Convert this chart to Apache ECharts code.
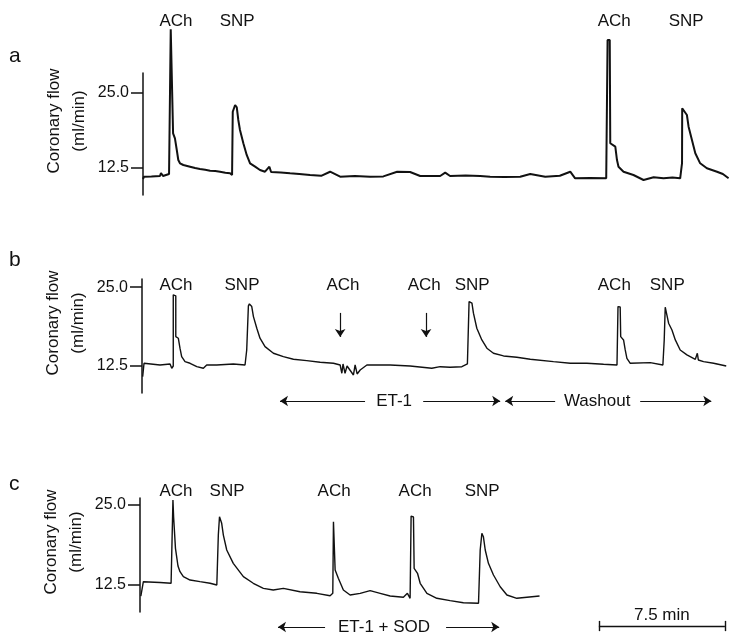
<!DOCTYPE html>
<html>
<head>
<meta charset="utf-8">
<script src="https://cdn.jsdelivr.net/npm/echarts@6/dist/echarts.min.js"></script>
<style>
html, body { margin: 0; padding: 0; background: #fff; }
#chart { width: 738px; height: 642px; }
</style>
</head>
<body>
<div id="chart"></div>
<script>
// time in minutes, coronary flow in ml/min
var traceA = [
  [0, 10.67], [0.06, 11.05], [0.5, 11.1], [1.01, 11.17], [1.07, 11.67], [1.19, 11.17], [1.55, 11.5], [1.64, 11.83],
  [1.65, 35.62], [1.76, 35.5], [1.79, 18.28], [1.9, 17.45], [2.01, 15.5], [2.1, 13.83], [2.2, 13.28], [2.4, 13.0],
  [2.8, 12.72], [3.1, 12.5], [3.39, 12.33], [3.7, 12.2], [3.99, 12.05], [4.3, 12.0], [4.58, 11.88], [4.9, 11.7], [5.18, 11.62], [5.3, 11.33],
  [5.34, 21.88], [5.48, 23.0], [5.58, 22.62], [5.67, 20.5], [5.77, 18.83], [5.97, 16.62], [6.17, 14.67], [6.37, 13.28],
  [6.67, 12.72], [6.96, 12.17], [7.26, 11.88], [7.52, 12.72], [7.62, 11.83], [8.2, 11.75], [8.75, 11.62], [9.3, 11.5], [9.94, 11.33], [10.6, 11.2],
  [11.13, 11.88], [11.73, 11.05], [12.6, 11.15], [13.51, 11.05], [14.3, 11.1], [15.12, 11.88], [15.89, 11.83], [16.49, 11.17],
  [17.68, 11.17], [17.98, 11.72], [18.27, 11.17], [19.2, 11.25], [20.06, 11.17], [20.65, 11.05], [21.5, 11.0], [22.44, 11.05], [23.04, 11.5],
  [23.93, 11.05], [24.8, 11.2], [25.42, 11.88], [25.71, 10.78], [26.6, 10.85], [27.56, 10.78],
  [27.64, 33.83], [27.77, 33.83], [27.8, 16.62], [28.1, 16.05], [28.2, 13.83], [28.29, 12.72], [28.59, 11.88], [29.18, 11.33],
  [29.78, 10.5], [30.38, 10.95], [30.97, 10.78], [31.5, 10.9], [31.96, 10.78],
  [32.07, 13.33], [32.08, 22.45], [32.16, 22.45], [32.36, 21.33], [32.46, 19.38], [32.66, 17.17], [32.86, 14.95], [33.15, 13.28],
  [33.55, 12.45], [34.15, 11.88], [34.5, 11.5], [34.84, 10.78]
];
var traceB = [
  [0.04, 10.75], [0.12, 12.88], [1.07, 12.61], [1.67, 12.77], [1.77, 12.09], [1.86, 12.45],
  [1.86, 23.78], [2.01, 23.62], [2.01, 17.13], [2.16, 16.87], [2.26, 15.28], [2.36, 13.94], [2.56, 13.14], [2.86, 12.88],
  [3.26, 12.34], [3.65, 12.09], [3.85, 12.61], [4.45, 12.61], [5.43, 12.77], [6.13, 12.61],
  [6.23, 15.0], [6.33, 22.02], [6.39, 22.34], [6.53, 21.91], [6.63, 20.31], [6.83, 18.46], [7.02, 16.87], [7.32, 15.53],
  [7.82, 14.48], [8.41, 13.94], [9.01, 13.52], [9.8, 13.3], [10.6, 13.04], [11.39, 12.88], [11.79, 12.61],
  [11.89, 11.29], [11.96, 12.77], [12.08, 11.29], [12.2, 12.45], [12.58, 11.02], [12.68, 12.61], [12.8, 11.18], [12.98, 11.81],
  [13.38, 12.61], [14.76, 12.61], [15.95, 12.45], [17.24, 12.09], [17.74, 12.34], [18.33, 12.24], [19.03, 12.34], [19.36, 12.77],
  [19.42, 12.61], [19.46, 22.71], [19.55, 22.87], [19.63, 22.45], [19.72, 20.86], [19.92, 18.46], [20.22, 16.6], [20.52, 15.28],
  [20.91, 14.48], [21.51, 14.05], [22.3, 13.84], [23.1, 13.52], [24.48, 13.14], [25.48, 12.88], [26.47, 12.88], [27.46, 12.72],
  [28.26, 12.61], [28.32, 21.91], [28.45, 21.86], [28.48, 17.13], [28.65, 16.6], [28.75, 15.0], [28.85, 13.68], [29.05, 12.88],
  [30.24, 12.98], [30.99, 12.61], [31.07, 16.6], [31.13, 21.81], [31.23, 21.65], [31.33, 19.26], [31.53, 18.19], [31.73, 16.6],
  [32.02, 15.0], [32.42, 14.21], [32.92, 13.52], [33.04, 14.48], [33.1, 13.41], [33.41, 13.14], [34.01, 12.88], [34.76, 12.45]
];
var traceC = [
  [0.05, 10.78], [0.2, 13.02], [1.19, 12.89], [1.85, 12.77],
  [1.96, 25.78], [2.0, 23.13], [2.08, 23.17], [2.11, 18.23], [2.2, 17.97], [2.26, 15.47], [2.38, 14.58], [2.58, 13.8],
  [2.98, 13.28], [3.57, 13.02], [4.17, 12.77], [4.57, 12.5],
  [4.66, 20.31], [4.73, 23.17], [4.86, 22.14], [4.96, 20.31], [5.16, 17.97], [5.55, 15.89], [6.15, 13.8], [6.74, 12.77],
  [7.34, 11.98], [7.93, 11.72], [8.53, 11.98], [9.52, 11.45], [10.52, 11.2], [11.31, 10.83], [11.47, 11.2],
  [11.51, 22.39], [11.6, 22.34], [11.61, 14.84], [11.8, 13.55], [12.1, 11.72], [12.5, 10.94], [13.1, 11.2], [13.69, 11.61],
  [14.29, 11.2], [14.88, 10.78], [15.67, 10.58], [15.91, 11.2], [16.07, 10.42],
  [16.13, 23.28], [16.27, 23.13], [16.31, 15.11], [16.51, 14.33], [16.67, 12.77], [17.07, 11.2], [17.66, 10.42], [18.45, 10.05],
  [19.24, 9.73], [20.14, 9.64],
  [20.24, 17.97], [20.34, 20.58], [20.43, 20.05], [20.54, 17.97], [20.73, 15.89], [21.03, 14.06], [21.43, 12.23], [21.83, 10.94],
  [22.42, 10.42], [23.02, 10.58], [23.77, 10.78]
];
var yTicks = [12.5, 25.0];

// drug additions: [name, minute, flow level of the label]
var labelsA = [['ACh', 1.96, 37.0], ['SNP', 5.6, 37.0], ['ACh', 28.04, 37.0], ['SNP', 32.32, 37.0]];
var labelsB = [['ACh', 2.02, 25.37], ['SNP', 5.95, 25.37], ['ACh', 11.96, 25.37], ['ACh', 16.79, 25.37],
               ['SNP', 19.64, 25.37], ['ACh', 28.1, 25.37], ['SNP', 31.25, 25.37],
               ['ET-1', 15.0, 6.87], ['Washout', 27.08, 6.87]];
var labelsC = [['ACh', 2.14, 27.19], ['SNP', 5.18, 27.19], ['ACh', 11.55, 27.19], ['ACh', 16.37, 27.19],
               ['SNP', 20.36, 27.19], ['ET-1 + SOD', 14.52, 5.94], ['7.5 min', 31.05, 7.7]];

// arrows: [from minute, from flow, to minute, to flow]
var arrowsB = [[13.27, 6.87, 8.21, 6.87], [16.73, 6.87, 21.31, 6.87], [24.58, 6.87, 21.61, 6.87], [29.64, 6.87, 33.87, 6.87],
               [11.79, 20.9, 11.79, 17.08], [16.9, 20.9, 16.9, 17.08]];
var arrowsC = [[11.01, 5.94, 8.21, 5.94], [18.21, 5.94, 21.37, 5.94]];
var scaleBar = [27.3, 34.8, 6.09];

var ink = '#111';
var font = "'Liberation Sans', Arial, sans-serif";

var myChart = echarts.init(document.getElementById('chart'));

function yAx(idx, min, max) {
    return {
        type: 'value', gridIndex: idx, min: min, max: max,
        name: 'Coronary flow\n(ml/min)', nameLocation: 'middle', nameGap: 51, nameMoveOverlap: false,
        nameTextStyle: { fontSize: 17, lineHeight: 25, color: ink, fontFamily: font, padding: [0, 0, 0, 26] },
        axisLine: { show: true, lineStyle: { color: ink, width: 1.5 } },
        axisTick: { show: true, length: 12, customValues: yTicks, lineStyle: { color: ink, width: 1.5 } },
        axisLabel: { show: true, margin: 14, fontSize: 16, color: ink, fontFamily: font, customValues: yTicks,
            formatter: function (v) { return v.toFixed(1); } },
        splitLine: { show: false }
    };
}
function xAx(idx) {
    return { type: 'value', gridIndex: idx, min: 0, max: 35.4, show: false };
}
function trace(idx, data, w) {
    return { type: 'line', xAxisIndex: idx, yAxisIndex: idx, data: data, showSymbol: false, clip: false,
        lineStyle: { color: ink, width: w }, z: 3 };
}
function texts(idx, list) {
    return { type: 'scatter', xAxisIndex: idx, yAxisIndex: idx, clip: false, symbolSize: 1,
        itemStyle: { color: 'transparent', opacity: 1 },
        data: list.map(function (d) { return { name: d[0], value: [d[1], d[2]] }; }),
        label: { show: true, position: 'inside', formatter: '{b}', fontSize: 17, color: ink, fontFamily: font } };
}
function arrows(idx, list) {
    return { type: 'lines', coordinateSystem: 'cartesian2d', xAxisIndex: idx, yAxisIndex: idx, clip: false,
        symbol: ['none', 'arrow'], symbolSize: 8,
        lineStyle: { color: ink, width: 1.2, opacity: 1 },
        data: list.map(function (a) { return { coords: [[a[0], a[1]], [a[2], a[3]]] }; }) };
}

var option = {
    animation: false,
    backgroundColor: '#fff',
    grid: [
        { left: 143, top: 73, width: 595, height: 122 },
        { left: 142, top: 279, width: 595, height: 114 },
        { left: 140, top: 498, width: 595, height: 114 }
    ],
    xAxis: [xAx(0), xAx(1), xAx(2)],
    yAxis: [yAx(0, 8.0, 28.33), yAx(1, 8.15, 26.3), yAx(2, 8.28, 26.1)],
    graphic: [
        { type: 'text', left: 9, top: 46, style: { text: 'a', fontSize: 21, fill: ink, fontFamily: font } },
        { type: 'text', left: 9, top: 250, style: { text: 'b', fontSize: 21, fill: ink, fontFamily: font } },
        { type: 'text', left: 9, top: 474, style: { text: 'c', fontSize: 21, fill: ink, fontFamily: font } }
    ],
    series: [
        trace(0, traceA, 2),
        trace(1, traceB, 1.4),
        trace(2, traceC, 1.4),
        texts(0, labelsA),
        texts(1, labelsB),
        texts(2, labelsC),
        arrows(1, arrowsB),
        arrows(2, arrowsC),
        {
            type: 'lines', coordinateSystem: 'cartesian2d', xAxisIndex: 2, yAxisIndex: 2, clip: false,
            lineStyle: { color: ink, width: 1.4, opacity: 1 },
            data: [
                { coords: [[scaleBar[0], scaleBar[2]], [scaleBar[1], scaleBar[2]]] },
                { coords: [[scaleBar[0], scaleBar[2] - 0.8], [scaleBar[0], scaleBar[2] + 0.8]] },
                { coords: [[scaleBar[1], scaleBar[2] - 0.8], [scaleBar[1], scaleBar[2] + 0.8]] }
            ]
        }
    ]
};
myChart.setOption(option);
</script>
</body>
</html>
